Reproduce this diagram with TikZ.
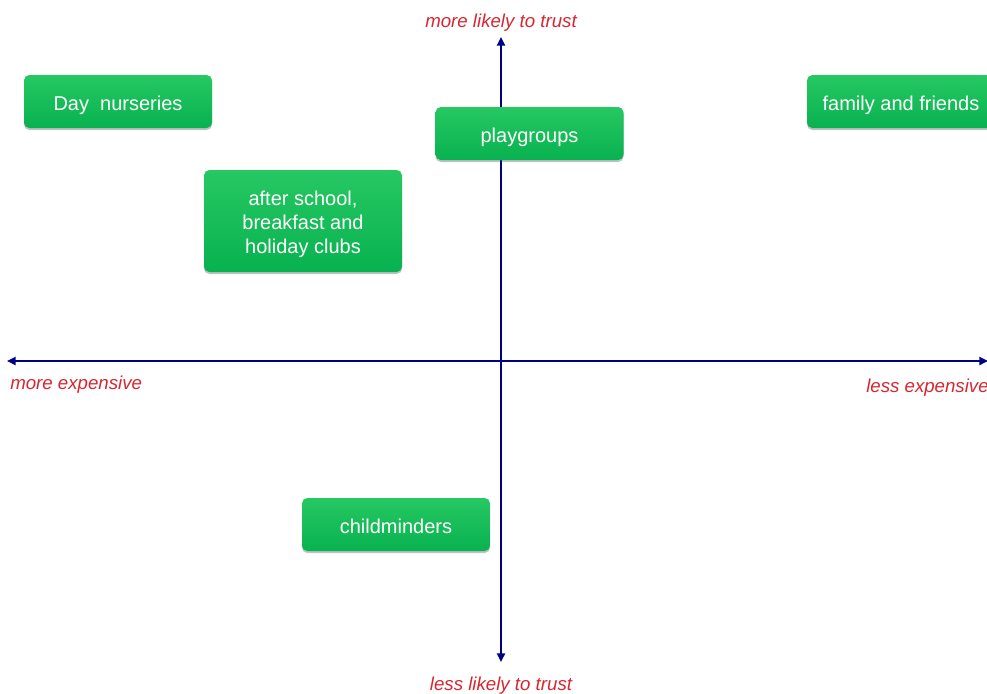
\documentclass[tikz,border=0pt]{standalone}
\usepackage{fontspec}
\setmainfont{Liberation Sans}
\usetikzlibrary{arrows.meta,shadows}
\definecolor{axisblue}{RGB}{0,0,128}
\definecolor{labelred}{RGB}{214,38,48}
\definecolor{boxtop}{RGB}{38,200,98}
\definecolor{boxbot}{RGB}{8,178,80}
\tikzset{
  axisline/.style={draw=axisblue, line width=1.8pt, {Triangle[length=6.5pt,width=6pt]}-{Triangle[length=6.5pt,width=6pt]}},
  axislabel/.style={text=labelred, font=\fontsize{14}{16}\selectfont\itshape, inner sep=0pt, anchor=base},
  greenbox/.style={rounded corners=4pt, top color=boxtop, bottom color=boxbot, draw=none,
    text=white, font=\fontsize{15}{18}\selectfont,
    minimum width=141pt, minimum height=39.75pt, inner sep=2pt,
    drop shadow={opacity=0.35, shadow xshift=0pt, shadow yshift=-1.5pt, fill=black!70}},
  oneline/.style={text height=16pt, text depth=3pt}
}
\begin{document}
\begin{tikzpicture}[x=0.75pt,y=-0.75pt]
\useasboundingbox (0,0) rectangle (987,693);
% axis end points
\coordinate (top) at (501,37);
\coordinate (bottom) at (501,662);
\coordinate (left) at (7,361);
\coordinate (right) at (988,361);
\draw[axisline] (bottom) -- (top);
\draw[axisline] (left) -- (right);
% axis labels
\node[axislabel] (lt) at (501,27) {more likely to trust};
\node[axislabel] (ll) at (501,690) {less likely to trust};
\node[axislabel, anchor=base west] (me) at (10,389) {more expensive};
\node[axislabel, anchor=base west] (le) at (866,392) {less expensive};
% boxes
\node[greenbox, oneline] (day) at (118,101.5) {Day\ \ nurseries};
\node[greenbox, oneline] (play) at (529.5,133.5) {playgroups};
\node[greenbox, align=center, minimum width=148.5pt, minimum height=76.5pt] (after) at (303,221) {\rule{0pt}{15.5pt}after school,\\breakfast and\\holiday clubs};
\node[greenbox, oneline] (family) at (901,101.5) {family and friends};
\node[greenbox, oneline] (child) at (396,524.5) {childminders};
\end{tikzpicture}
\end{document}
